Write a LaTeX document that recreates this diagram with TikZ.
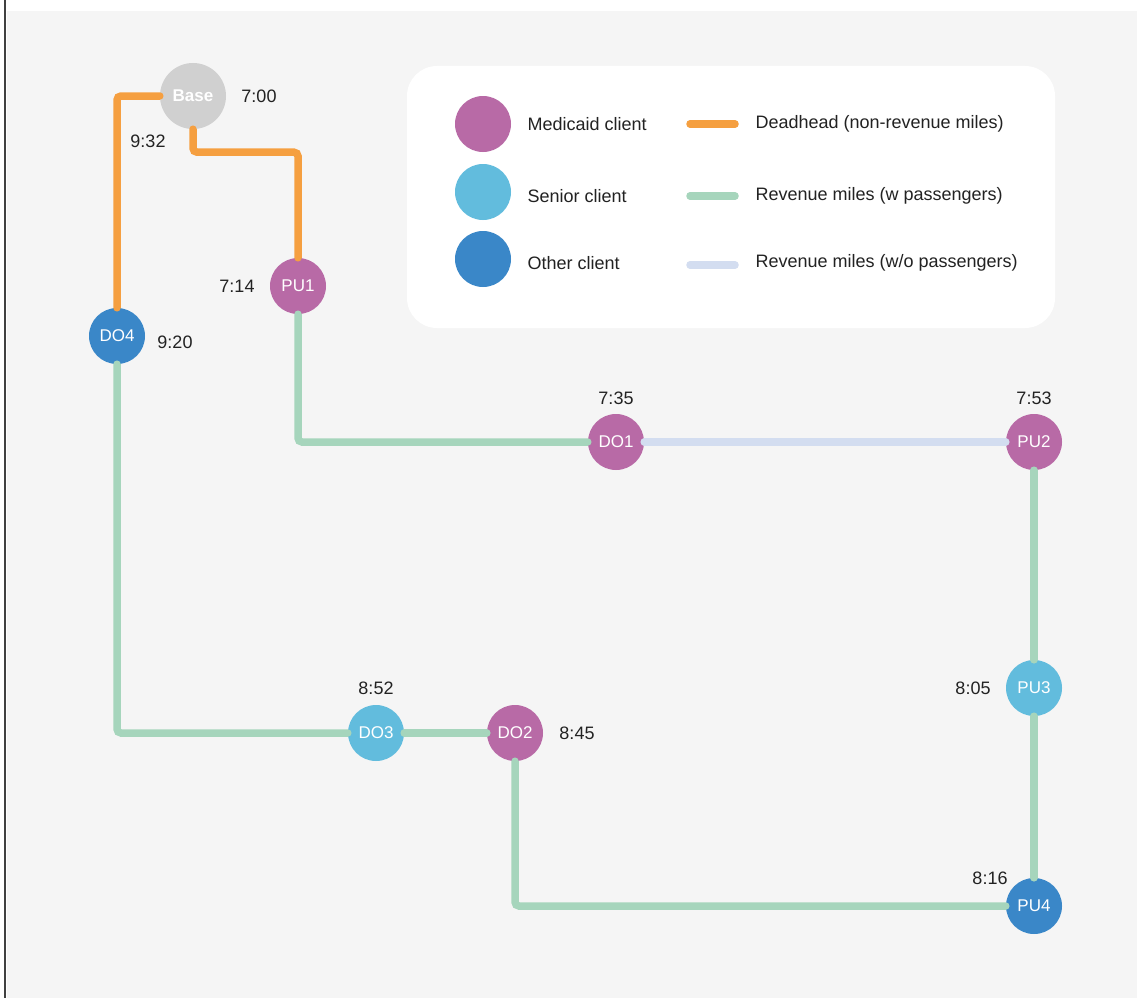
\documentclass[tikz,border=0pt]{standalone}
\usepackage{fontspec}
\setmainfont{Liberation Sans}
\definecolor{medicaid}{HTML}{B86AA6}
\definecolor{senior}{HTML}{62BCDD}
\definecolor{other}{HTML}{3A87C8}
\definecolor{basegray}{HTML}{D0D0D0}
\definecolor{deadorange}{HTML}{F59F40}
\definecolor{revgreen}{HTML}{A6D5BC}
\definecolor{emptyblue}{HTML}{D3DDF0}
\definecolor{panel}{HTML}{F5F5F5}
\definecolor{ink}{HTML}{222222}
\begin{document}
\begin{tikzpicture}[x=1pt, y=-1pt,
        stop/.style={circle, minimum size=56pt, inner sep=0pt, text=white,
            font=\fontsize{17}{18}\selectfont},
        time/.style={text=ink, font=\fontsize{18}{20}\selectfont},
        legtext/.style={text=ink, font=\fontsize{18}{20}\selectfont, anchor=west},
        trip/.style={line width=7.5pt, line cap=round, rounded corners=4pt},
        deadhead/.style={trip, deadorange},
        loaded/.style={trip, revgreen},
        empty/.style={trip, emptyblue}]
    \useasboundingbox (0, 0) rectangle (1140, 998);
    \fill[panel] (7, 11) rectangle (1137, 998);
    \draw[line width=2.5pt, black!75] (5, 0) -- (5, 998);

    \fill[white, rounded corners=30pt] (407, 66) rectangle (1055, 328);
    \node[stop, fill=medicaid] at (483, 124) (lmed) {};
    \node[stop, fill=senior] at (483, 192) (lsen) {};
    \node[stop, fill=other] at (483, 259) (loth) {};
    \node[legtext] at (524, 124) (lmedtext) {Medicaid client};
    \node[legtext] at (524, 196) (lsentext) {Senior client};
    \node[legtext] at (524, 263) (lothtext) {Other client};
    \draw[deadhead] (690, 124) -- (735, 124);
    \draw[loaded] (690, 196) -- (735, 196);
    \draw[empty] (690, 265) -- (735, 265);
    \node[legtext] at (752, 124) (ldeadtext) {Deadhead (non-revenue miles)};
    \node[legtext] at (752, 196) (lloadtext) {Revenue miles (w passengers)};
    \node[legtext] at (752, 263) (lemptytext) {Revenue miles (w/o passengers)};

    \node[stop, fill=basegray, minimum size=66pt, font=\fontsize{17}{18}\selectfont\bfseries] at (193, 96) (base) {Base};
    \node[stop, fill=medicaid] at (298, 286) (pu1) {PU1};
    \node[stop, fill=medicaid] at (616, 442) (do1) {DO1};
    \node[stop, fill=medicaid] at (1034, 442) (pu2) {PU2};
    \node[stop, fill=senior] at (1034, 688) (pu3) {PU3};
    \node[stop, fill=other] at (1034, 906) (pu4) {PU4};
    \node[stop, fill=medicaid] at (515, 733) (do2) {DO2};
    \node[stop, fill=senior] at (376, 733) (do3) {DO3};
    \node[stop, fill=other] at (117, 336) (do4) {DO4};

    \node[time] at (259, 96) (t700) {7:00};
    \node[time] at (148, 141) (t932) {9:32};
    \node[time] at (237, 286) (t714) {7:14};
    \node[time] at (175, 342) (t920) {9:20};
    \node[time] at (616, 398) (t735) {7:35};
    \node[time] at (1034, 398) (t753) {7:53};
    \node[time] at (973, 688) (t805) {8:05};
    \node[time] at (990, 878) (t816) {8:16};
    \node[time] at (376, 688) (t852) {8:52};
    \node[time] at (577, 733) (t845) {8:45};

    \draw[deadhead] (base.west) -| (do4.north);
    \draw[deadhead] (base.south) -- ++(0, 23) -| (pu1.north);
    \draw[loaded] (pu1.south) |- (do1.west);
    \draw[empty] (do1.east) -- (pu2.west);
    \draw[loaded] (pu2.south) -- (pu3.north);
    \draw[loaded] (pu3.south) -- (pu4.north);
    \draw[loaded] (pu4.west) -| (do2.south);
    \draw[loaded] (do2.west) -- (do3.east);
    \draw[loaded] (do3.west) -| (do4.south);
\end{tikzpicture}
\end{document}
